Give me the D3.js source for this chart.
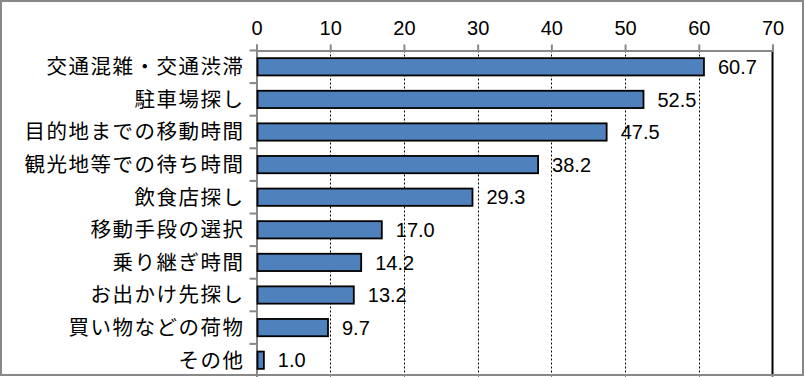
<!DOCTYPE html>
<html><head><meta charset="utf-8">
<script src="https://cdn.jsdelivr.net/npm/d3@7"></script>
<style>html,body{margin:0;padding:0;background:#fff;}svg{display:block;}</style>
</head><body>
<svg id="chart" width="805" height="377"></svg>
<script>
const categories = ["交通混雑・交通渋滞","駐車場探し","目的地までの移動時間","観光地等での待ち時間","飲食店探し","移動手段の選択","乗り継ぎ時間","お出かけ先探し","買い物などの荷物","その他"];
const values = [60.7,52.5,47.5,38.2,29.3,17.0,14.2,13.2,9.7,1.0];
const tickValues = [0,10,20,30,40,50,60,70];

(function(){
const svg = d3.select("#chart");
const pLeft = 256.5, pRight = 772.5, pTop = 50.5, pBottom = 376.5;
const x = d3.scaleLinear().domain([0,70]).range([pLeft,pRight]);
const y = d3.scaleBand().domain(categories).range([pTop,pBottom]).paddingInner(0.47).paddingOuter(0.235);

// gridlines
svg.append("g").selectAll("line").data(tickValues.filter(d=>d>0&&d<70)).join("line")
  .attr("x1",d=>Math.round(x(d))+0.5).attr("x2",d=>Math.round(x(d))+0.5)
  .attr("y1",pTop).attr("y2",pBottom)
  .attr("stroke","#000").attr("stroke-width",1).attr("stroke-dasharray","2,2");

// right solid line
svg.append("line").attr("x1",x(70)).attr("x2",x(70)).attr("y1",pTop).attr("y2",pBottom)
  .attr("stroke","#000").attr("stroke-width",2);

// top axis
const xAxis = d3.axisTop(x).tickValues(tickValues).tickSize(6).tickPadding(10).tickFormat(d3.format("d"));
const gx = svg.append("g").attr("transform",`translate(0,${pTop})`).call(xAxis);
gx.select(".domain").attr("stroke","#888").attr("stroke-width",2);
gx.selectAll(".tick line").attr("stroke","#888").attr("stroke-width",2);
gx.selectAll(".tick text").attr("fill","#000").style("font-family","'Liberation Sans', Arial, sans-serif").style("font-size","20px");

// left axis
const yAxis = d3.axisLeft(y).tickSize(0).tickPadding(12);
const gy = svg.append("g").attr("transform",`translate(${pLeft},0)`).call(yAxis);
gy.select(".domain").attr("stroke","#888").attr("stroke-width",2);
gy.selectAll(".tick text").attr("fill","#000").style("font-family","'Noto Sans CJK JP', sans-serif").style("font-size","20.5px").style("letter-spacing","1.5px").attr("dy","0.36em");
// category boundary ticks
const n = categories.length;
svg.append("g").selectAll("line").data(d3.range(n)).join("line")
  .attr("x1",pLeft-7).attr("x2",pLeft).attr("y1",d=>pTop+d*(pBottom-pTop)/n).attr("y2",d=>pTop+d*(pBottom-pTop)/n)
  .attr("stroke","#888").attr("stroke-width",2);

// bars
svg.append("g").selectAll("rect").data(values).join("rect")
  .attr("x",x(0)+1).attr("y",(d,i)=>y(categories[i]))
  .attr("width",d=>x(d)-x(0)-1).attr("height",y.bandwidth())
  .attr("fill","#4F81BD").attr("stroke","#000").attr("stroke-width",1.8);

// value labels
svg.append("g").selectAll("text").data(values).join("text")
  .attr("x",d=>x(d)+14).attr("y",(d,i)=>y(categories[i])+y.bandwidth()/2)
  .attr("dy","0.36em").text(d=>d.toFixed(1))
  .style("font-family","'Liberation Sans', Arial, sans-serif").style("font-size","20px").attr("fill","#000");

// outer border
svg.append("rect").attr("x",1).attr("y",1).attr("width",802).attr("height",374)
  .attr("fill","none").attr("stroke","#888").attr("stroke-width",2);
})();
</script>
</body></html>
